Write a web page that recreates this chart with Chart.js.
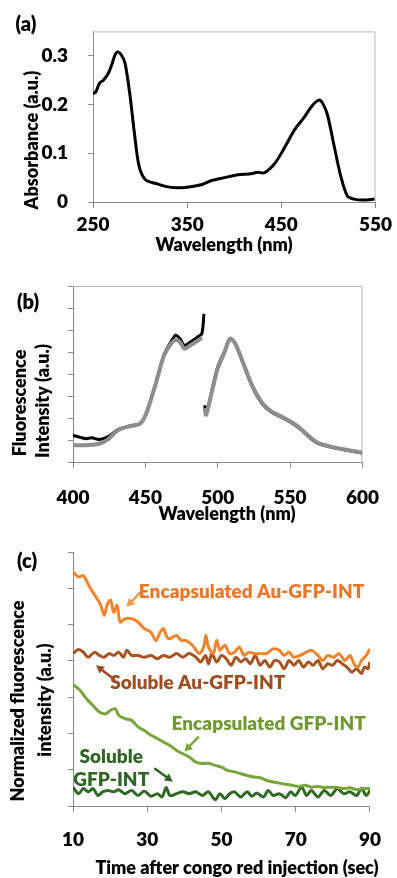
<!DOCTYPE html>
<html lang="en">
<head>
<meta charset="UTF-8">
<title>Absorbance, fluorescence and quenching panels</title>
<script src="https://cdn.jsdelivr.net/npm/chart.js@4.4.0/dist/chart.umd.min.js"></script>
<style>
  html, body { margin: 0; padding: 0; background: #fff; }
  canvas { display: block; }
</style>
</head>
<body>
<canvas id="chartA" width="397" height="262"></canvas>
<canvas id="chartB" width="397" height="265"></canvas>
<canvas id="chartC" width="397" height="351"></canvas>

<script>
// ---- panel (a): absorbance spectrum ----
const absWl  = [250, 253, 257, 261, 266, 270, 273, 276, 280, 284, 289, 294, 299, 306, 317, 327, 338, 352, 366, 376, 390, 404, 418, 425, 432, 443, 453, 464, 474, 483, 490, 494, 499, 506, 513, 520, 527, 537, 549];
const absVal = [0.222, 0.226, 0.244, 0.250, 0.263, 0.282, 0.300, 0.308, 0.302, 0.285, 0.223, 0.141, 0.073, 0.045, 0.038, 0.032, 0.029, 0.031, 0.036, 0.044, 0.050, 0.056, 0.058, 0.061, 0.060, 0.079, 0.110, 0.148, 0.173, 0.198, 0.209, 0.202, 0.179, 0.116, 0.054, 0.013, 0.006, 0.004, 0.006];
const absXTicks = [250, 350, 450, 550];
const absYTicks = [0, 0.1, 0.2, 0.3];

// ---- panel (b): fluorescence spectra (null = gap between excitation / emission) ----
const flWl    = [400, 405, 409, 413, 418, 424, 431, 439, 446, 450, 455, 459, 463, 468, 471, 474, 477, 481, 486, 489, 490.5, 490.8,
                 491, 492, 496, 500, 504.5, 508.5, 512, 517.6, 524, 530.6, 537, 543.6, 550, 556.6, 563, 569.6, 578, 587, 599.6];
const flBlack = [1.21, 1.12, 1.06, 1.10, 1.02, 1.14, 1.47, 1.64, 1.74, 2.12, 3.10, 4.00, 4.90, 5.50, 5.76, 5.60, 5.30, 5.45, 5.68, 5.83, 6.74, null,
                 2.58, 2.20, 3.26, 4.32, 5.00, 5.60, 5.38, 4.47, 3.41, 2.65, 2.27, 2.05, 1.82, 1.52, 1.14, 0.83, 0.68, 0.56, 0.41];
const flGray  = [0.76, 0.76, 0.76, 0.78, 0.83, 1.02, 1.44, 1.62, 1.72, 2.10, 3.08, 3.98, 4.85, 5.40, 5.55, 5.45, 5.15, 5.30, 5.50, 5.65, null, null,
                 2.45, 2.15, 3.20, 4.25, 4.95, 5.60, 5.40, 4.50, 3.45, 2.70, 2.30, 2.08, 1.85, 1.55, 1.18, 0.86, 0.70, 0.58, 0.43];
const flXTicks = [400, 450, 500, 550, 600];

// ---- panel (c): normalized fluorescence vs time ----
const encAuT = [10, 11.5, 12.8, 14.5, 16.2, 17.5, 18.4, 19.3, 20.1, 21, 21.9, 22.7, 24, 25.8, 27.5, 29.2, 31, 32.3, 33.5, 34.4, 35.3, 36.1, 37.9, 39.2, 40.5, 42.2, 44, 45.2, 45.8, 46.5, 47.8, 48.7, 49.6, 50.9, 52.2, 53.5, 54.8, 56.1, 57.4, 58.7, 60.4, 62.1, 63.9, 65.6, 66.9, 68.2, 69.5, 71.2, 72.9, 74.2, 76, 77.3, 78.6, 80.3, 81.6, 83.3, 84.6, 85.9, 86.8, 87.7, 89, 90];
const encAuV = [6.45, 6.31, 6.35, 6.03, 5.76, 5.53, 5.25, 5.57, 5.67, 5.34, 5.53, 5.07, 5.16, 5.16, 5.07, 4.89, 4.79, 4.56, 4.79, 4.89, 4.66, 4.61, 4.70, 4.56, 4.56, 4.43, 4.20, 4.38, 4.70, 4.38, 4.20, 4.56, 4.29, 4.43, 4.20, 4.24, 4.38, 4.15, 4.24, 4.20, 4.20, 4.20, 4.33, 4.29, 4.15, 4.24, 4.10, 4.15, 4.24, 4.29, 4.15, 4.01, 4.15, 4.10, 4.20, 4.01, 4.15, 3.88, 3.83, 4.01, 4.15, 4.33];

const solAuT = [10, 11.5, 12.8, 14.1, 15.8, 17.1, 18.4, 19.7, 21, 22.3, 23.6, 24.5, 25.8, 27.5, 29.2, 31, 32.7, 34.4, 36.1, 37.9, 39.6, 41.3, 43.1, 44.4, 45.7, 46.5, 47.4, 48.7, 50, 51.3, 52.6, 53.9, 55.2, 56.5, 57.8, 59.1, 60.4, 61.7, 63, 64.3, 65.6, 66.9, 68.2, 69.5, 70.8, 72.1, 73.4, 74.7, 76, 77.3, 78.6, 79.9, 81.2, 82.5, 83.8, 85.1, 86.4, 87.7, 88.5, 89.4, 90];
const solAuV = [4.20, 4.31, 4.24, 4.10, 4.24, 4.15, 4.10, 4.20, 4.15, 4.24, 4.10, 4.29, 4.15, 4.15, 4.10, 4.15, 4.06, 4.15, 4.10, 4.20, 4.10, 4.20, 4.10, 3.97, 4.15, 3.92, 4.20, 3.97, 4.15, 4.06, 3.88, 4.10, 3.97, 4.06, 3.92, 4.15, 3.88, 4.01, 3.83, 4.01, 3.97, 3.78, 4.01, 3.88, 4.01, 3.83, 3.97, 3.88, 4.01, 3.78, 3.92, 3.88, 4.01, 3.92, 3.83, 3.69, 3.78, 3.65, 3.83, 3.78, 3.97];

const encT = [10, 11.9, 13.6, 15.4, 17.1, 18.8, 20.1, 21.4, 22.3, 24, 25.8, 27.5, 29.2, 31, 32.7, 34.4, 36.1, 37.9, 39.6, 41.3, 43.1, 44.8, 46.5, 48.3, 50, 51.7, 53.5, 55.2, 56.9, 58.7, 60.4, 62.1, 63.9, 65.6, 67.3, 69, 70.8, 72.5, 74.2, 76, 77.7, 79.4, 81.2, 82.9, 84.6, 86.4, 88.1, 90];
const encV = [3.35, 3.19, 2.96, 2.77, 2.59, 2.54, 2.64, 2.68, 2.50, 2.41, 2.36, 2.18, 2.08, 1.95, 1.86, 1.76, 1.67, 1.53, 1.44, 1.35, 1.21, 1.17, 1.18, 1.12, 1.07, 0.98, 0.94, 0.89, 0.84, 0.80, 0.78, 0.71, 0.66, 0.63, 0.60, 0.57, 0.54, 0.57, 0.52, 0.54, 0.51, 0.52, 0.51, 0.48, 0.50, 0.45, 0.48, 0.48];

const solT = [10, 11.5, 12.8, 14.1, 15.4, 16.7, 18, 19.3, 21, 22.3, 24, 25.8, 27.5, 29.2, 31, 32.7, 34, 35.1, 36.1, 37.9, 39.6, 41.3, 43.1, 44.8, 46.5, 48.3, 49.6, 50.9, 52.2, 53.5, 55.2, 56.9, 58.2, 59.5, 61.3, 62.6, 63.9, 65.6, 67.3, 68.6, 69.9, 71.6, 72.9, 74.2, 76, 77.7, 79.4, 81.2, 82.9, 84.6, 86.4, 87.7, 89, 90];
const solV = [0.52, 0.34, 0.48, 0.39, 0.48, 0.29, 0.39, 0.43, 0.39, 0.45, 0.34, 0.43, 0.29, 0.41, 0.27, 0.34, 0.25, 0.51, 0.29, 0.34, 0.39, 0.34, 0.39, 0.29, 0.39, 0.17, 0.34, 0.20, 0.34, 0.39, 0.25, 0.39, 0.27, 0.36, 0.25, 0.43, 0.29, 0.34, 0.23, 0.39, 0.29, 0.52, 0.29, 0.43, 0.25, 0.43, 0.29, 0.48, 0.34, 0.39, 0.29, 0.48, 0.29, 0.43];
const timeXTicks = [10, 30, 50, 70, 90];

// series labels inside panel (c), in data units
const seriesNotes = [
  { text: ['Encapsulated Au-GFP-INT'], t: 58.1, v: 5.91, color: '#e8772a' },
  { text: ['Soluble Au-GFP-INT'], t: 43.6, v: 3.39, color: '#9c4e22' },
  { text: ['Encapsulated GFP-INT'], t: 62.7, v: 2.26, color: '#6f9a33' },
  { text: ['Soluble', 'GFP-INT'], t: 20.3, v: 1.04, color: '#2f6624' }
];
const noteArrows = [
  { from: [28.3, 5.90], to: [24.4, 5.49], color: '#f39a4e' },
  { from: [21.3, 3.47], to: [16.2, 3.88], color: '#9c4e22' },
  { from: [43.9, 1.91], to: [40.0, 1.50], color: '#7aa53a' },
  { from: [31.9, 1.04], to: [36.9, 0.67], color: '#2f6624' }
];

const FONT = 'Lato, "DejaVu Sans", sans-serif';
Chart.defaults.font.family = FONT;
Chart.defaults.font.weight = 800;
Chart.defaults.font.size = 19;
Chart.defaults.color = '#000';

const AXIS = '#8a8a8a';
const FRAME = '#b8b8b8';

function pts(xs, ys) {
  return xs.map((x, i) => ({ x: x, y: ys[i] }));
}

// free text: panel letters and axis titles
const textPlugin = {
  id: 'texts',
  afterDraw(chart, args, opts) {
    const ctx = chart.ctx;
    (opts.items || []).forEach(it => {
      ctx.save();
      ctx.font = '800 ' + (it.size || 18) + 'px ' + FONT;
      ctx.fillStyle = it.color || '#000';
      ctx.textAlign = 'center';
      ctx.textBaseline = 'middle';
      ctx.translate(it.x, it.y);
      if (it.rot) ctx.rotate(it.rot);
      ctx.fillText(it.text, 0, 0);
      ctx.restore();
    });
  }
};

// light grey top and right edges of the plot box
const framePlugin = {
  id: 'frame',
  beforeDatasetsDraw(chart, args, opts) {
    if (!opts.show) return;
    const a = chart.chartArea, ctx = chart.ctx;
    ctx.save();
    ctx.strokeStyle = FRAME;
    ctx.lineWidth = 1;
    ctx.beginPath();
    ctx.moveTo(a.left, a.top + 0.5);
    ctx.lineTo(a.right - 0.5, a.top + 0.5);
    ctx.lineTo(a.right - 0.5, a.bottom);
    ctx.stroke();
    ctx.restore();
  }
};

// notes and arrows for panel (c)
const notesPlugin = {
  id: 'notes',
  afterDatasetsDraw(chart, args, opts) {
    if (!opts.show) return;
    const ctx = chart.ctx, xs = chart.scales.x, ys = chart.scales.y;
    noteArrows.forEach(a => {
      const x1 = xs.getPixelForValue(a.from[0]), y1 = ys.getPixelForValue(a.from[1]);
      const x2 = xs.getPixelForValue(a.to[0]), y2 = ys.getPixelForValue(a.to[1]);
      const ang = Math.atan2(y2 - y1, x2 - x1);
      const hl = 9;
      ctx.save();
      ctx.strokeStyle = a.color;
      ctx.fillStyle = a.color;
      ctx.lineWidth = 2.5;
      ctx.beginPath();
      ctx.moveTo(x1, y1);
      ctx.lineTo(x2 - Math.cos(ang) * 4, y2 - Math.sin(ang) * 4);
      ctx.stroke();
      ctx.beginPath();
      ctx.moveTo(x2, y2);
      ctx.lineTo(x2 - hl * Math.cos(ang - 0.5), y2 - hl * Math.sin(ang - 0.5));
      ctx.lineTo(x2 - hl * Math.cos(ang + 0.5), y2 - hl * Math.sin(ang + 0.5));
      ctx.closePath();
      ctx.fill();
      ctx.restore();
    });
    seriesNotes.forEach(n => {
      const x = xs.getPixelForValue(n.t);
      ctx.save();
      ctx.font = '800 19px ' + FONT;
      ctx.fillStyle = n.color;
      ctx.textAlign = 'center';
      ctx.textBaseline = 'middle';
      if (n.text.length === 1) {
        ctx.fillText(n.text[0], x, ys.getPixelForValue(n.v));
      } else {
        ctx.fillText(n.text[0], x, ys.getPixelForValue(1.36));
        ctx.fillText(n.text[1], x, ys.getPixelForValue(0.72));
      }
      ctx.restore();
    });
  }
};

function xAxis(min, max, step, height, pad) {
  return {
    type: 'linear', min: min, max: max,
    afterFit: s => { s.height = height; },
    afterBuildTicks: s => { s.ticks = step.map(v => ({ value: v })); },
    border: { color: AXIS, width: 1 },
    grid: { drawOnChartArea: false, drawTicks: true, tickLength: 6, color: AXIS },
    ticks: { padding: pad, maxRotation: 0, autoSkip: false }
  };
}

function yAxis(min, max, tickVals, width, showLabels) {
  return {
    type: 'linear', min: min, max: max,
    afterFit: s => { s.width = width; },
    afterBuildTicks: s => { s.ticks = tickVals.map(v => ({ value: v })); },
    border: { color: AXIS, width: 1 },
    grid: { drawOnChartArea: false, drawTicks: true, tickLength: 5, color: AXIS },
    ticks: {
      display: showLabels, padding: 20,
      callback: v => (v === 0 ? '0' : v.toFixed(1))
    }
  };
}

const lineDefaults = { pointRadius: 0, fill: false, tension: 0.3, spanGaps: false };

// (a)
new Chart(document.getElementById('chartA'), {
  type: 'line',
  data: {
    datasets: [Object.assign({ data: pts(absWl, absVal), borderColor: '#000', borderWidth: 3 }, lineDefaults)]
  },
  options: {
    responsive: false, animation: false,
    layout: { padding: { top: 16, right: 18, left: 0, bottom: 0 } },
    plugins: {
      legend: { display: false }, tooltip: { enabled: false },
      frame: { show: true },
      texts: { items: [
        { text: '(a)', x: 26, y: 25, size: 20 },
        { text: 'Absorbance (a.u.)', x: 32, y: 140, rot: -Math.PI / 2 },
        { text: 'Wavelength (nm)', x: 224, y: 245 }
      ] }
    },
    scales: {
      x: xAxis(250, 550, absXTicks, 60, 5),
      y: yAxis(0, 0.35, absYTicks, 93, true)
    }
  },
  plugins: [framePlugin, textPlugin]
});

// (b)
new Chart(document.getElementById('chartB'), {
  type: 'line',
  data: {
    datasets: [
      Object.assign({ data: pts(flWl, flGray), borderColor: '#8e8e8e', borderWidth: 4, order: 0 }, lineDefaults),
      Object.assign({ data: pts(flWl, flBlack), borderColor: '#000', borderWidth: 3, order: 1 }, lineDefaults)
    ]
  },
  options: {
    responsive: false, animation: false,
    layout: { padding: { top: 24, right: 17, left: 0, bottom: 0 } },
    plugins: {
      legend: { display: false }, tooltip: { enabled: false },
      frame: { show: true },
      texts: { items: [
        { text: '(b)', x: 28, y: 41, size: 20 },
        { text: 'Fluorescence', x: 20, y: 141, rot: -Math.PI / 2 },
        { text: 'Intensity (a.u.)', x: 43, y: 139, rot: -Math.PI / 2 },
        { text: 'Wavelength (nm)', x: 227, y: 252 }
      ] }
    },
    scales: {
      x: xAxis(400, 600, flXTicks, 65, 18),
      y: yAxis(0, 8, [0, 1, 2, 3, 4, 5, 6, 7, 8], 73, false)
    }
  },
  plugins: [framePlugin, textPlugin]
});

// (c)
new Chart(document.getElementById('chartC'), {
  type: 'line',
  data: {
    datasets: [
      Object.assign({ data: pts(encAuT, encAuV), borderColor: '#f0832c', borderWidth: 3 }, lineDefaults),
      Object.assign({ data: pts(solAuT, solAuV), borderColor: '#a5531f', borderWidth: 3 }, lineDefaults),
      Object.assign({ data: pts(encT, encV), borderColor: '#7aa53a', borderWidth: 3 }, lineDefaults),
      Object.assign({ data: pts(solT, solV), borderColor: '#2f6a22', borderWidth: 3 }, lineDefaults)
    ]
  },
  options: {
    responsive: false, animation: false,
    layout: { padding: { top: 25, right: 16, left: 0, bottom: 0 } },
    plugins: {
      legend: { display: false }, tooltip: { enabled: false },
      frame: { show: false },
      notes: { show: true },
      texts: { items: [
        { text: '(c)', x: 27, y: 35, size: 20 },
        { text: 'Normalized fluorescence', x: 18, y: 174, rot: -Math.PI / 2 },
        { text: 'intensity (a.u.)', x: 45, y: 173, rot: -Math.PI / 2 },
        { text: 'Time after congo red injection (sec)', x: 237, y: 341 }
      ] }
    },
    scales: {
      x: xAxis(10, 90, timeXTicks, 72, 16),
      y: yAxis(0, 7, [0, 1, 2, 3, 4, 5, 6, 7], 73, false)
    }
  },
  plugins: [notesPlugin, textPlugin]
});
</script>
</body>
</html>
